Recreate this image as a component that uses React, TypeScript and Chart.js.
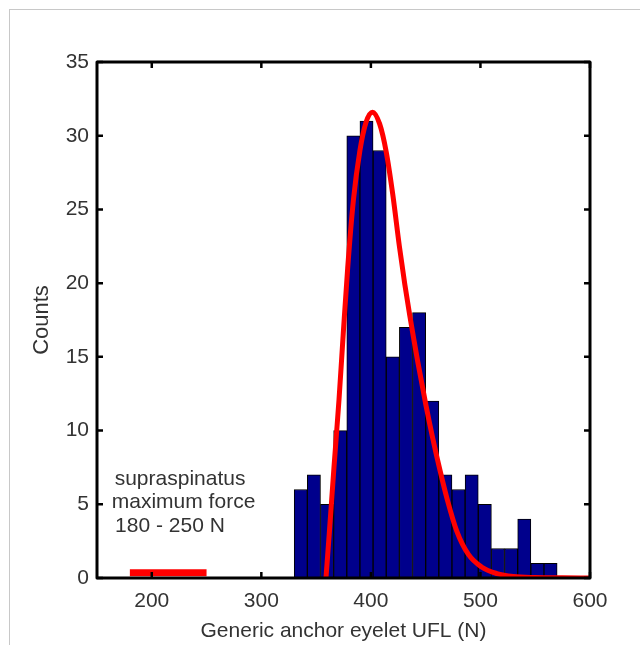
import React, { useEffect, useRef } from "react";
import { Chart, registerables } from "chart.js";

Chart.register(...registerables);

// Histogram bins (centre of each 12 N wide bin) and counts
const BIN_CENTERS = [336, 348, 360, 372, 384, 396, 408, 420, 432, 444, 456, 468, 480, 492, 504, 516, 528, 540, 552, 564];
const COUNTS = [6, 7, 5, 10, 30, 31, 29, 15, 17, 18, 12, 7, 6, 7, 5, 2, 2, 4, 1, 1];

// Fitted distribution curve
const FIT_X = [359, 362, 366.3, 370.9, 374.8, 378.8, 384, 390, 395.5, 401.5, 408, 414, 420, 426, 431, 435.5, 438.7, 442.7, 450.3, 456.4, 463.1, 469.8, 478.3, 489, 501, 515, 530, 550, 575, 600];
const FIT_Y = [0, 3, 7.5, 12.1, 16.6, 21.0, 25.6, 29, 30.9, 31.6, 30.8, 28.9, 26.0, 22.5, 19.9, 17.8, 16.4, 14.7, 11.7, 9.5, 7.3, 5.3, 3.2, 1.6, 0.75, 0.3, 0.1, 0.03, 0.01, 0];

// Supraspinatus maximum force range
const RANGE_X = [180, 250];
const RANGE_Y = [0.35, 0.35];

const X_TICKS = [200, 300, 400, 500, 600];
const Y_TICKS = [0, 5, 10, 15, 20, 25, 30, 35];

const NOTE_TEXT = ["supraspinatus", "maximum force", "180 - 250 N"];
const NOTE_X = [225.8, 229, 216.6];
const NOTE_Y = [6.31, 4.77, 3.14];

const FONT = "'Liberation Sans', Arial, Helvetica, sans-serif";
const TEXT_COLOR = "#333333";

const boxPlugin = {
  id: "matlabBox",
  afterDatasetsDraw(chart: any) {
    const { ctx, chartArea, scales } = chart;
    const { left, right, top, bottom } = chartArea;
    const xs = scales.x;
    const ys = scales.y;
    ctx.save();
    // annotation text
    ctx.fillStyle = TEXT_COLOR;
    ctx.font = `21px ${FONT}`;
    ctx.textAlign = "center";
    ctx.textBaseline = "alphabetic";
    NOTE_TEXT.forEach((t, i) => {
      ctx.fillText(t, xs.getPixelForValue(NOTE_X[i]), ys.getPixelForValue(NOTE_Y[i]));
    });
    // inward ticks on all four sides
    ctx.strokeStyle = "#000";
    ctx.lineWidth = 2.5;
    ctx.beginPath();
    const tl = 6;
    xs.ticks.forEach((t: any) => {
      const px = xs.getPixelForValue(t.value);
      ctx.moveTo(px, bottom);
      ctx.lineTo(px, bottom - tl);
      ctx.moveTo(px, top);
      ctx.lineTo(px, top + tl);
    });
    ys.ticks.forEach((t: any) => {
      const py = ys.getPixelForValue(t.value);
      ctx.moveTo(left, py);
      ctx.lineTo(left + tl, py);
      ctx.moveTo(right, py);
      ctx.lineTo(right - tl, py);
    });
    ctx.stroke();
    // box
    ctx.lineWidth = 3;
    ctx.lineJoin = "round";
    ctx.strokeRect(left, top, right - left, bottom - top);
    ctx.restore();
  },
};

export default function App() {
  const canvasRef = useRef<HTMLCanvasElement | null>(null);

  useEffect(() => {
    if (!canvasRef.current) return;
    const chart = new Chart(canvasRef.current, {
      type: "bar",
      data: {
        datasets: [
          {
            type: "line",
            label: "fit",
            data: FIT_X.map((x, i) => ({ x, y: FIT_Y[i] })),
            borderColor: "#ff0000",
            borderWidth: 5,
            pointRadius: 0,
            fill: false,
            cubicInterpolationMode: "monotone",
            order: 1,
          } as any,
          {
            type: "line",
            label: "range",
            data: RANGE_X.map((x, i) => ({ x, y: RANGE_Y[i] })),
            borderColor: "#ff0000",
            borderWidth: 7,
            borderCapStyle: "butt",
            pointRadius: 0,
            fill: false,
            order: 1,
          } as any,
          {
            type: "bar",
            label: "counts",
            data: BIN_CENTERS.map((x, i) => ({ x, y: COUNTS[i] })),
            backgroundColor: "#00008c",
            borderColor: "#000000",
            borderWidth: 1,
            borderSkipped: false,
            barPercentage: 1,
            categoryPercentage: 1,
            order: 2,
          } as any,
        ],
      },
      options: {
        responsive: false,
        animation: false,
        events: [],
        layout: { padding: { left: 0, top: 62, right: 50, bottom: 0 } },
        plugins: { legend: { display: false }, tooltip: { enabled: false } },
        scales: {
          x: {
            type: "linear",
            min: 150,
            max: 600,
            offset: false,
            grid: { display: false, drawTicks: false },
            border: { display: false },
            afterBuildTicks: (scale: any) => {
              scale.ticks = X_TICKS.map((v) => ({ value: v }));
            },
            afterFit: (scale: any) => {
              scale.height = 67;
            },
            ticks: {
              padding: 11,
              color: TEXT_COLOR,
              font: { family: FONT, size: 21 },
              maxRotation: 0,
            },
            title: {
              display: true,
              text: "Generic anchor eyelet UFL (N)",
              color: TEXT_COLOR,
              font: { family: FONT, size: 21 },
              padding: { top: 0, bottom: 1 },
            },
          },
          y: {
            type: "linear",
            min: 0,
            max: 35,
            grid: { display: false, drawTicks: false },
            border: { display: false },
            afterBuildTicks: (scale: any) => {
              scale.ticks = Y_TICKS.map((v) => ({ value: v }));
            },
            afterFit: (scale: any) => {
              scale.width = 97;
            },
            ticks: {
              padding: 8,
              color: TEXT_COLOR,
              font: { family: FONT, size: 21 },
            },
            title: {
              display: true,
              text: "Counts",
              color: TEXT_COLOR,
              font: { family: FONT, size: 22 },
              padding: { top: 29, bottom: 0 },
            },
          },
        },
      } as any,
      plugins: [boxPlugin],
    });
    return () => chart.destroy();
  }, []);

  return (
    <div
      style={{
        position: "absolute",
        left: 0,
        top: 0,
        width: 640,
        height: 645,
        overflow: "hidden",
        background: "#fff",
      }}
    >
      <div
        style={{
          position: "absolute",
          left: 9,
          top: 9,
          width: 700,
          height: 700,
          borderLeft: "1px solid #c8c8c8",
          borderTop: "1px solid #c8c8c8",
        }}
      />
      <canvas
        ref={canvasRef}
        width={640}
        height={645}
        style={{ position: "absolute", left: 0, top: 0, display: "block" }}
      />
    </div>
  );
}
